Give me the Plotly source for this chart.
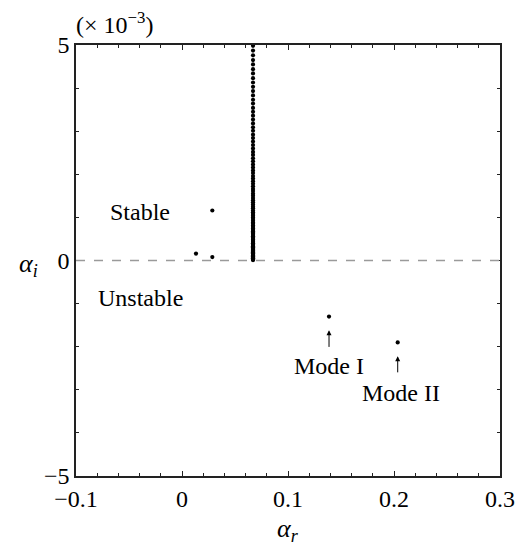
import plotly.graph_objects as go

# Eigenvalue spectrum, alpha_i in units of 1e-3
col_ar = 0.067
col_ai = [4.98, 4.87, 4.76, 4.65, 4.55, 4.44, 4.34, 4.23, 4.13, 4.03, 3.93, 3.83,
          3.73, 3.64, 3.54, 3.45, 3.36, 3.27, 3.18, 3.09, 3.01, 2.92, 2.84, 2.76,
          2.68, 2.60, 2.52, 2.45, 2.37, 2.30, 2.23, 2.16, 2.09, 2.03, 1.96, 1.90,
          1.84, 1.78, 1.72, 1.66, 1.61, 1.55, 1.50, 1.45, 1.40, 1.35, 1.30, 1.25,
          1.21, 1.16, 1.12, 1.08, 1.04, 1.00, 0.96, 0.92, 0.88, 0.85, 0.81, 0.78,
          0.74, 0.71, 0.68, 0.65, 0.62, 0.59, 0.56, 0.53, 0.50, 0.48, 0.45, 0.43,
          0.40, 0.38, 0.36, 0.33, 0.31, 0.29, 0.27, 0.25, 0.23, 0.21, 0.19, 0.17,
          0.15, 0.13, 0.12, 0.10, 0.08, 0.07, 0.05, 0.04, 0.02, 0.01]

other_ar = [0.0132, 0.0286, 0.0286, 0.1387, 0.2035]
other_ai = [0.16, 1.16, 0.08, -1.30, -1.90]

x_ticks = [-0.1, 0, 0.1, 0.2, 0.3]
x_labels = ["\u22120.1", "0", "0.1", "0.2", "0.3"]
y_ticks = [-5, 0, 5]
y_labels = ["\u22125", "0", "5"]

FONT = "Liberation Serif, Times New Roman, serif"
AXIS = "#222222"
FS = 24

fig = go.Figure()

fig.add_hline(y=0, line_dash="dash", line_color="#9a9a9a", line_width=1.5)

fig.add_trace(go.Scatter(
    x=[col_ar] * len(col_ai), y=col_ai,
    mode="markers", marker=dict(color="black", size=4.2),
    showlegend=False,
))
fig.add_trace(go.Scatter(
    x=other_ar, y=other_ai,
    mode="markers", marker=dict(color="black", size=4.2),
    showlegend=False,
))

# text labels
labels = [
    (-0.0396, 1.12, "Stable"),
    (-0.0396, -0.88, "Unstable"),
    (0.1387, -2.44, "Mode I"),
    (0.207, -3.08, "Mode II"),
]
for x, y, t in labels:
    fig.add_annotation(x=x, y=y, text=t, showarrow=False,
                       font=dict(family=FONT, size=FS, color="black"))

# small arrows pointing at the two modes (head, tail)
for x, yh, yt in [(0.1387, -1.62, -2.04), (0.2035, -2.22, -2.63)]:
    fig.add_annotation(x=x, y=yh, ax=x, ay=yt, axref="x", ayref="y",
                       text="", showarrow=True, arrowhead=2, arrowsize=1,
                       arrowwidth=1, arrowcolor="black")

fig.add_annotation(xref="paper", yref="paper", x=-0.005, y=1.051, xanchor="left",
                   yanchor="middle",
                   text="(\u00d7 10<sup>\u22123</sup>)", showarrow=False,
                   font=dict(family=FONT, size=FS, color="black"))
fig.add_annotation(xref="paper", yref="paper", x=-0.113, y=0.49,
                   xanchor="center", yanchor="middle",
                   text="<i>\u03b1<sub>i</sub></i>", showarrow=False,
                   font=dict(family=FONT, size=26, color="black"))
fig.add_annotation(xref="paper", yref="paper", x=0.5, y=-0.125,
                   xanchor="center", yanchor="middle",
                   text="<i>\u03b1<sub>r</sub></i>", showarrow=False,
                   font=dict(family=FONT, size=26, color="black"))

fig.update_xaxes(
    range=[-0.1, 0.3], tickvals=x_ticks, ticktext=x_labels,
    showline=True, linecolor=AXIS, linewidth=1.5, mirror="ticks",
    ticks="inside", ticklen=5, tickcolor=AXIS, tickwidth=1.2,
    minor=dict(dtick=0.02, tick0=0, ticks="inside", ticklen=3, tickcolor=AXIS),
    showgrid=False, zeroline=False, automargin=False, ticklabeloverflow="allow",
    tickfont=dict(family=FONT, size=FS, color="black"),
)
fig.update_yaxes(
    range=[-5, 5], tickvals=y_ticks, ticktext=y_labels,
    showline=True, linecolor=AXIS, linewidth=1.5, mirror="ticks",
    ticks="inside", ticklen=5, tickcolor=AXIS, tickwidth=1.2,
    minor=dict(dtick=1, tick0=0, ticks="inside", ticklen=3, tickcolor=AXIS),
    showgrid=False, zeroline=False, automargin=False,
    tickfont=dict(family=FONT, size=FS, color="black"),
)

fig.update_layout(
    width=515, height=549,
    margin=dict(l=76, r=15, t=45, b=73),
    plot_bgcolor="white", paper_bgcolor="white",
    font=dict(family=FONT, color="black"),
)

# drop the default page margin so the figure fills the window exactly
fig.write_html("out.html",
               config={"displayModeBar": False},
               post_script="document.body.style.margin='0';"
                           "document.body.style.overflow='hidden';")
